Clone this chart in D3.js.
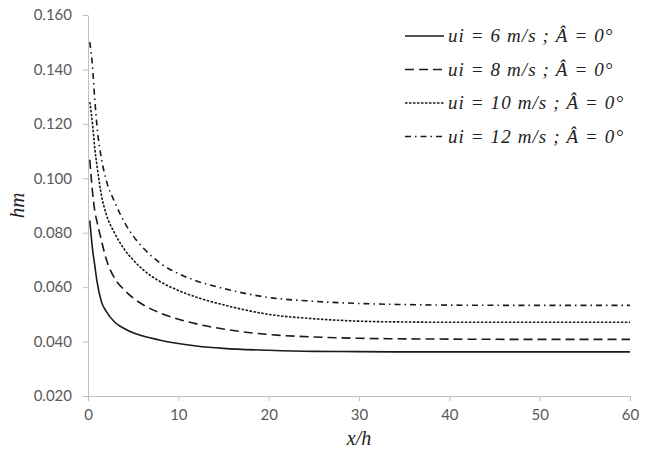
<!DOCTYPE html>
<html>
<head>
<meta charset="utf-8">
<script src="https://cdn.jsdelivr.net/npm/d3@7"></script>
<style>
  html, body { margin: 0; padding: 0; background: #fff; }
  svg { display: block; }
</style>
</head>
<body>
<svg id="chart" width="645" height="449"></svg>
<script>
// x/h positions shared by all series
const XH = [0.2, 0.5, 0.75, 1, 1.5, 2, 3, 4, 5, 6, 8, 10, 12, 15, 20, 25, 30, 35, 40, 50, 60];

// hm values
const HM_6  = [0.0845, 0.074, 0.068, 0.062, 0.0545, 0.0512, 0.047, 0.0448, 0.0432, 0.0421, 0.0405, 0.0393, 0.0384, 0.0375, 0.0368, 0.0364, 0.0363, 0.0362, 0.0362, 0.0362, 0.0362];
const HM_8  = [0.1068, 0.095, 0.088, 0.084, 0.077, 0.0705, 0.0630, 0.0590, 0.0560, 0.0537, 0.0505, 0.0482, 0.0465, 0.0446, 0.0426, 0.0417, 0.0412, 0.041, 0.0409, 0.0408, 0.0408];
const HM_10 = [0.128, 0.120, 0.111, 0.1045, 0.0935, 0.0870, 0.0795, 0.0740, 0.0700, 0.0667, 0.0620, 0.0588, 0.0563, 0.0535, 0.0500, 0.0484, 0.0475, 0.0472, 0.0471, 0.0471, 0.0471];
const HM_12 = [0.150, 0.141, 0.129, 0.119, 0.107, 0.0995, 0.0910, 0.0840, 0.0788, 0.0748, 0.0688, 0.0650, 0.0623, 0.0595, 0.0562, 0.0548, 0.0540, 0.0536, 0.0534, 0.0533, 0.0533];

const LABELS = ["ui = 6 m/s ; Â = 0°", "ui = 8 m/s ; Â = 0°", "ui = 10 m/s ; Â = 0°", "ui = 12 m/s ; Â = 0°"];
const X_TICKS = [0, 10, 20, 30, 40, 50, 60];
const Y_TICKS = [0.02, 0.04, 0.06, 0.08, 0.10, 0.12, 0.14, 0.16];

const DASHES = [null, "9,5", "2.5,1.5", "6,4,1.5,4"];

const series = [HM_6, HM_8, HM_10, HM_12].map((vals, i) => ({
  label: LABELS[i],
  dash: DASHES[i],
  points: XH.map((x, j) => ({ x, y: vals[j] }))
}));

const svg = d3.select("#chart");
const margin = { top: 15, right: 15, bottom: 53, left: 88 };
const W = 645, H = 449;

const x = d3.scaleLinear().domain([0, 60]).range([margin.left, W - margin.right]);
const y = d3.scaleLinear().domain([0.02, 0.16]).range([H - margin.bottom, margin.top]);

const axisColor = "#bfbfbf";
const labelColor = "#595959";
const tickFont = "Lato, 'Open Sans', sans-serif";
const serif = "'Liberation Serif', 'DejaVu Serif', serif";

// y axis
const gy = svg.append("g")
  .attr("transform", `translate(${margin.left},0)`)
  .call(d3.axisLeft(y).tickValues(Y_TICKS).tickFormat(d3.format(".3f")).tickSize(5).tickSizeOuter(0).tickPadding(11));
gy.select(".domain").attr("stroke", axisColor);
gy.selectAll(".tick line").attr("stroke", axisColor);
gy.selectAll("text").attr("fill", labelColor).style("font-family", tickFont).style("font-size", "15px");

// x axis
const gx = svg.append("g")
  .attr("transform", `translate(0,${H - margin.bottom})`)
  .call(d3.axisBottom(x).tickValues(X_TICKS).tickSize(5).tickSizeOuter(0).tickPadding(8));
gx.select(".domain").attr("stroke", axisColor);
gx.selectAll(".tick line").attr("stroke", axisColor);
gx.selectAll("text").attr("fill", labelColor).style("font-family", tickFont).style("font-size", "15px");

// axis titles
svg.append("text")
  .attr("transform", `translate(24,${(margin.top + H - margin.bottom) / 2}) rotate(-90)`)
  .attr("text-anchor", "middle")
  .style("font-family", serif)
  .style("font-style", "italic")
  .style("font-size", "21px")
  .attr("fill", "#222")
  .text("hm");

svg.append("text")
  .attr("x", (margin.left + W - margin.right) / 2)
  .attr("y", 445)
  .attr("text-anchor", "middle")
  .style("font-family", serif)
  .style("font-style", "italic")
  .style("font-size", "20px")
  .attr("fill", "#222")
  .text("x/h");

// curves
const line = d3.line()
  .x(d => x(d.x))
  .y(d => y(d.y))
  .curve(d3.curveMonotoneX);

svg.append("g").selectAll("path")
  .data(series)
  .enter().append("path")
  .attr("d", d => line(d.points))
  .attr("fill", "none")
  .attr("stroke", "#1a1a1a")
  .attr("stroke-width", 1.6)
  .attr("stroke-dasharray", d => d.dash);

// legend
const lg = svg.append("g").attr("transform", "translate(405,36)");
const rows = lg.selectAll("g")
  .data(series)
  .enter().append("g")
  .attr("transform", (d, i) => `translate(0,${i * 33.5})`);

rows.append("line")
  .attr("x1", 0).attr("x2", 39)
  .attr("y1", 0).attr("y2", 0)
  .attr("stroke", "#1a1a1a")
  .attr("stroke-width", 1.6)
  .attr("stroke-dasharray", d => d.dash);

rows.append("text")
  .attr("x", 43)
  .attr("y", 6)
  .style("font-family", serif)
  .style("font-style", "italic")
  .style("font-size", "19px")
  .style("letter-spacing", "1.1px")
  .attr("fill", "#222")
  .text(d => d.label);
</script>
</body>
</html>
